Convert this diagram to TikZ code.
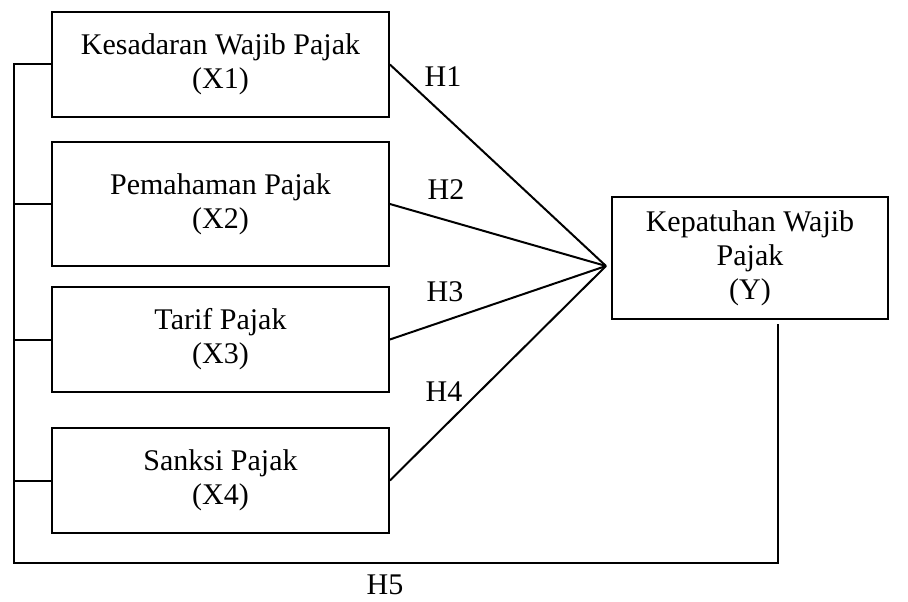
\documentclass[tikz,border=0pt]{standalone}
\usepackage{fontspec}
\setmainfont{Liberation Serif}
\begin{document}
\begin{tikzpicture}[x=1pt,y=-1pt,
  box/.style={draw,line width=1.8pt,rectangle,inner sep=0pt,align=center,font=\fontsize{30}{34}\selectfont},
  lbl/.style={inner sep=0pt,font=\fontsize{30}{34}\selectfont},
  ln/.style={line width=2pt}]
\path[use as bounding box,fill=white] (0,0) rectangle (908,602);
\node[box,minimum width=337pt,minimum height=105pt] (X1) at (220.5,64.5) {Kesadaran Wajib Pajak\\(X1)};
\node[box,minimum width=337pt,minimum height=124pt] (X2) at (220.5,204) {Pemahaman Pajak\\(X2)};
\node[box,minimum width=337pt,minimum height=105pt] (X3) at (220.5,339.5) {Tarif Pajak\\(X3)};
\node[box,minimum width=337pt,minimum height=105pt] (X4) at (220.5,480.5) {Sanksi Pajak\\(X4)};
\node[box,minimum width=276pt,minimum height=122pt] (Y) at (750,258) {Kepatuhan Wajib\\Pajak\\(Y)};
\coordinate (c) at (606,266);
\coordinate (bl) at (14,563);
\coordinate (br) at (778,563);
\coordinate (yb) at (778,324);
\draw[ln] (X1.east) -- (c);
\draw[ln] (X2.east) -- (c);
\draw[ln] (X3.east) -- (c);
\draw[ln] (X4.east) -- (c);
\draw[ln] (X1.west) -- (X1.west -| bl) -- (bl) -- (br) -- (yb);
\draw[ln] (X2.west) -- (X2.west -| bl);
\draw[ln] (X3.west) -- (X3.west -| bl);
\draw[ln] (X4.west) -- (X4.west -| bl);
\node[lbl] (h1) at (443,77) {H1};
\node[lbl] (h2) at (446,190) {H2};
\node[lbl] (h3) at (445,292) {H3};
\node[lbl] (h4) at (444,392) {H4};
\node[lbl] (h5) at (385,585) {H5};
\end{tikzpicture}
\end{document}
